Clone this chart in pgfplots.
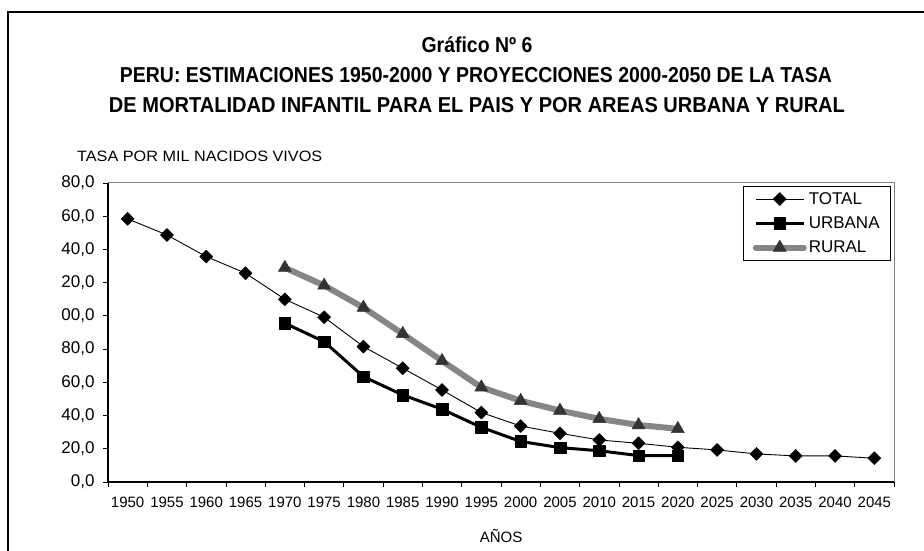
\documentclass[border=0pt]{standalone}
\usepackage{pgfplots}
\pgfplotsset{compat=1.18}
\usepackage{fontspec}
\setmainfont{Liberation Sans}
\definecolor{ruralline}{HTML}{868686}
\definecolor{ruralmark}{HTML}{333333}
\definecolor{frameg}{HTML}{808080}
\begin{document}
\begin{tikzpicture}
\useasboundingbox (0pt,0pt) rectangle (924pt,551pt);
\draw[line width=1.5pt] (8pt,0pt) -- (8pt,539pt) -- (924pt,539pt);
\node[anchor=base, inner sep=0] at (477pt,498pt) {\fontsize{21.6}{26}\selectfont\bfseries\scalebox{0.9}[1]{Gráfico Nº 6}};
\node[anchor=base, inner sep=0] at (476pt,468pt) {\resizebox{712pt}{\height}{\fontsize{21.6}{26}\selectfont\bfseries PERU: ESTIMACIONES 1950-2000 Y PROYECCIONES 2000-2050 DE LA TASA}};
\node[anchor=base, inner sep=0] at (477pt,438pt) {\resizebox{736pt}{\height}{\fontsize{21.6}{26}\selectfont\bfseries DE MORTALIDAD INFANTIL PARA EL PAIS Y POR AREAS URBANA Y RURAL}};
\node[anchor=base west, inner sep=0] at (77pt,389pt) {\resizebox{245pt}{\height}{\fontsize{15}{18}\selectfont TASA POR MIL NACIDOS VIVOS}};
\node[anchor=base, inner sep=0] at (501pt,8pt) {\fontsize{15}{18}\selectfont AÑOS};
\begin{axis}[
  at={(108pt,69pt)}, anchor=south west,
  scale only axis, width=786pt, height=299pt,
  xmin=1947.5, xmax=2047.5, ymin=0, ymax=180,
  axis lines=left, axis line style={-, line width=1.2pt, black},
  /pgf/number format/assume math mode=true,
  xtick={1947.5,1952.5,...,2047.5}, xticklabels={},
  extra x ticks={1950,1955,...,2045},
  extra x tick labels={1950,1955,1960,1965,1970,1975,1980,1985,1990,1995,2000,2005,2010,2015,2020,2025,2030,2035,2040,2045},
  extra x tick style={major tick length=0pt, xticklabel style={yshift=-11pt}},
  ytick={0,20,...,180},
  yticklabels={{0,0},{20,0},{40,0},{60,0},{80,0},{00,0},{20,0},{40,0},{60,0},{80,0}},
  tick align=outside, major tick length=5pt,
  tick style={black, line width=0.8pt},
  xticklabel style={font=\fontsize{15}{17}\selectfont},
  yticklabel style={font=\fontsize{17}{19}\selectfont, xshift=-5pt},
  clip=false,
  legend style={at={(0.9962,0.99)}, anchor=north east, draw=black, line width=0.8pt,
    font=\fontsize{17}{19}\selectfont, row sep=7pt, inner xsep=9pt, inner ysep=4pt,
    cells={anchor=west}},
  legend image code/.code={\draw[mark repeat=2,mark phase=2] plot coordinates {(0pt,0pt) (24pt,0pt) (48pt,0pt)};},
  after end axis/.code={\draw[color=frameg, line width=1pt] (rel axis cs:0,1) -- (rel axis cs:1,1) -- (rel axis cs:1,0);},
]
\addplot[black, line width=0.9pt, line join=round, mark=square*, mark size=4.6pt,
  mark options={rotate=45, solid, fill=black, line width=0.5pt}] coordinates {
(1950,158.4) (1955,148.7) (1960,135.7) (1965,125.7) (1970,110.0) (1975,99.2)
(1980,81.5) (1985,68.5) (1990,55.4) (1995,41.8) (2000,33.7) (2005,29.3)
(2010,25.3) (2015,23.3) (2020,20.9) (2025,19.3) (2030,16.9) (2035,15.7)
(2040,15.7) (2045,14.3)};
\addlegendentry{TOTAL}
\addplot[black, line width=3pt, line join=round, mark=square*, mark size=5.8pt,
  mark options={solid, fill=black, line width=0.5pt}] coordinates {
(1970,95.6) (1975,84.5) (1980,63.4) (1985,52.4) (1990,43.8) (1995,32.9)
(2000,24.4) (2005,20.7) (2010,18.8) (2015,15.9) (2020,15.9)};
\addlegendentry{URBANA}
\addplot[color=ruralline, line width=6pt, line join=round, line cap=round, mark=triangle*, mark size=7.5pt,
  mark options={solid, fill=ruralmark, draw=ruralmark, line width=0.5pt}] coordinates {
(1970,129.0) (1975,118.3) (1980,105.0) (1985,89.2) (1990,72.9) (1995,57.0)
(2000,48.9) (2005,43.0) (2010,38.0) (2015,34.3) (2020,32.0)};
\addlegendentry{RURAL}
\end{axis}
\end{tikzpicture}
\end{document}
